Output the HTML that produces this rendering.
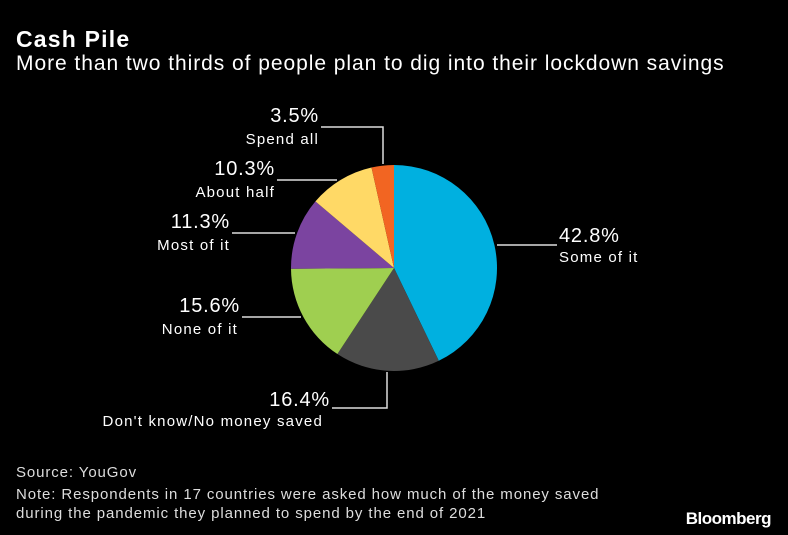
<!DOCTYPE html>
<html><head><meta charset="utf-8">
<style>
body{margin:0;background:#000;width:788px;height:535px;overflow:hidden;font-family:"Liberation Sans","DejaVu Sans",sans-serif;color:#fff}
.t{position:absolute;white-space:nowrap}
</style></head>
<body>
<div class="t" style="left:16px;top:26px;font-size:23px;font-weight:bold;letter-spacing:1.2px">Cash Pile</div>
<div class="t" style="left:16px;top:52px;font-size:21px;letter-spacing:0.95px">More than two thirds of people plan to dig into their lockdown savings</div>
<svg id="pie" width="788" height="535" style="position:absolute;left:0;top:0"></svg>
<div class="t" style="left:16px;top:464px;font-size:15px;color:#ddd;letter-spacing:0.9px">Source: YouGov</div>
<div class="t" style="left:16px;top:485px;font-size:15px;color:#ddd;line-height:19px;letter-spacing:0.9px">Note: Respondents in 17 countries were asked how much of the money saved<br>during the pandemic they planned to spend by the end of 2021</div>
<div class="t" style="right:17px;top:509px;font-size:17px;font-weight:bold;letter-spacing:-0.5px">Bloomberg</div>
<script>
const categories=["Some of it","Don't know/No money saved","None of it","Most of it","About half","Spend all"];
const values=[42.8,16.4,15.6,11.3,10.3,3.5];
const colors=["#00b0e0","#4a4a4a","#9fcf50","#7b44a0","#ffd966","#f26522"];
const layout=[
 {pts:[[497,245],[557,245]],x:559,nx:559,py:242,ny:262,a:"start"},
 {pts:[[387,372],[387,408],[332,408]],x:330,nx:323,py:406,ny:426,a:"end"},
 {pts:[[301,317],[242,317]],x:240,nx:238,py:312,ny:334,a:"end"},
 {pts:[[295,233],[232,233]],x:230,nx:230,py:228,ny:250,a:"end"},
 {pts:[[337,180],[277,180]],x:275,nx:275,py:175,ny:197,a:"end"},
 {pts:[[383,164],[383,127],[321,127]],x:319,nx:319,py:122,ny:144,a:"end"}
];
const svg=document.getElementById('pie');const NS='http://www.w3.org/2000/svg';
const cx=394,cy=268,r=103;
const total=values.reduce((a,b)=>a+b,0);
let ang=0;
values.forEach((v,i)=>{
 const a0=ang/total*2*Math.PI,a1=(ang+v)/total*2*Math.PI;ang+=v;
 const x0=cx+r*Math.sin(a0),y0=cy-r*Math.cos(a0),x1=cx+r*Math.sin(a1),y1=cy-r*Math.cos(a1);
 const p=document.createElementNS(NS,'path');
 p.setAttribute('d',`M${cx},${cy}L${x0},${y0}A${r},${r} 0 ${a1-a0>Math.PI?1:0} 1 ${x1},${y1}Z`);
 p.setAttribute('fill',colors[i]);
 
 
 svg.appendChild(p);
 const L=layout[i];
 const pl=document.createElementNS(NS,'polyline');
 pl.setAttribute('points',L.pts.map(q=>q.join(',')).join(' '));
 pl.setAttribute('fill','none');pl.setAttribute('stroke','#ddd');pl.setAttribute('stroke-width','1.5');
 
 
 svg.appendChild(pl);
 const t1=document.createElementNS(NS,'text');
 t1.setAttribute('x',L.x);t1.setAttribute('y',L.py);t1.setAttribute('text-anchor',L.a);
 t1.setAttribute('fill','#fff');t1.setAttribute('font-size','20');t1.setAttribute('letter-spacing','0.8');t1.textContent=v.toFixed(1)+'%';
 
 
 svg.appendChild(t1);
 const t2=document.createElementNS(NS,'text');
 t2.setAttribute('x',L.nx);t2.setAttribute('y',L.ny);t2.setAttribute('text-anchor',L.a);
 t2.setAttribute('fill','#fff');t2.setAttribute('font-size','15');t2.setAttribute('letter-spacing','1.2');t2.textContent=categories[i];
 
 
 svg.appendChild(t2);
});
</script>
</body></html>
